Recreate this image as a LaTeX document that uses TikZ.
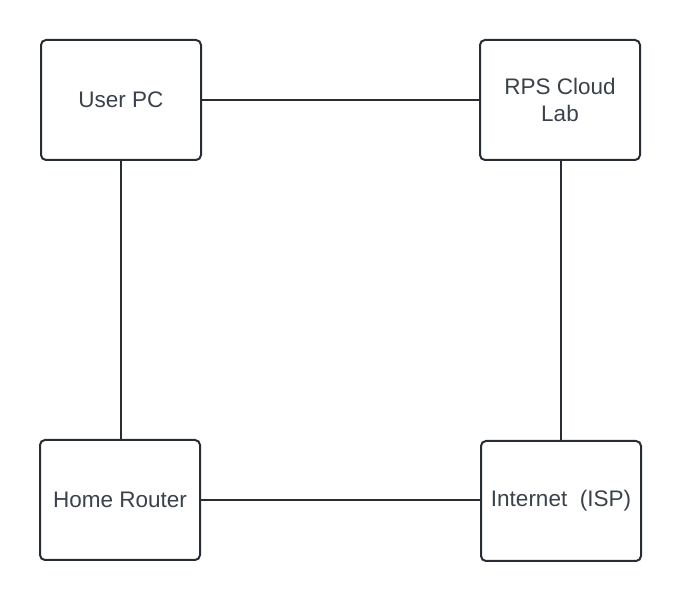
\documentclass[tikz,border=0pt]{standalone}
\usepackage{fontspec}
\setmainfont{Liberation Sans}
\definecolor{edge}{HTML}{282C33}
\definecolor{txt}{HTML}{3A414A}
\begin{document}
\begin{tikzpicture}[x=1pt,y=-1pt,
  box/.style={draw=edge,line width=2pt,rounded corners=5pt,minimum width=160pt,minimum height=120pt,inner sep=0pt,
    align=center,text=txt,font=\fontsize{22.5}{27.5}\selectfont},
  link/.style={draw=edge,line width=2pt}]
\useasboundingbox (0,0) rectangle (681,601);
\node[box] (pc) at (121,100) {User PC};
\node[box] (rps) at (560,100) {RPS Cloud\\Lab};
\node[box] (router) at (120,500) {Home Router};
\node[box] (isp) at (561,501) {Internet\ \ (ISP)};
\draw[link] (pc.east) -- (pc.east -| rps.west);
\draw[link] (pc.south) -- (pc.south |- router.north);
\draw[link] (rps.south -| isp.north) -- (isp.north);
\draw[link] (router.east) -- (router.east -| isp.west);
\end{tikzpicture}
\end{document}
